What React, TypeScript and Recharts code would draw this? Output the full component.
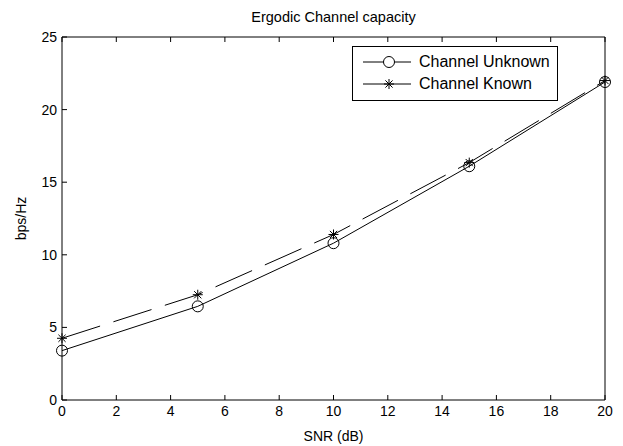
import React from 'react';
import { LineChart, Line, XAxis, YAxis, Legend, Label } from 'recharts';

const snrDb = [0, 5, 10, 15, 20];
const capacityUnknown = [3.4, 6.45, 10.8, 16.1, 21.9];
const capacityKnown = [4.25, 7.25, 11.4, 16.35, 22.0];
const xTicks = [0, 2, 4, 6, 8, 10, 12, 14, 16, 18, 20];
const yTicks = [0, 5, 10, 15, 20, 25];
const seriesNames = ['Channel Unknown', 'Channel Known'];
const chartTitle = 'Ergodic Channel capacity';
const xLabel = 'SNR (dB)';
const yLabel = 'bps/Hz';

const data = snrDb.map((s, i) => ({ snr: s, unknown: capacityUnknown[i], known: capacityKnown[i] }));

const FONT = '"Liberation Sans", Arial, Helvetica, sans-serif';
const TICK = 5;

const BottomTick = (p: any) => (
  <g>
    <line x1={p.x} x2={p.x} y1={p.y} y2={p.y - TICK} stroke="#000" strokeWidth={1} />
    <text x={p.x} y={p.y + 16} textAnchor="middle" fontSize={14} fontFamily={FONT} fill="#000">
      {p.payload.value}
    </text>
  </g>
);
const TopTick = (p: any) => (
  <line x1={p.x} x2={p.x} y1={p.y} y2={p.y + TICK} stroke="#000" strokeWidth={1} />
);
const LeftTick = (p: any) => (
  <g>
    <line x1={p.x} x2={p.x + TICK} y1={p.y} y2={p.y} stroke="#000" strokeWidth={1} />
    <text x={p.x - 5} y={p.y + 5} textAnchor="end" fontSize={14} fontFamily={FONT} fill="#000">
      {p.payload.value}
    </text>
  </g>
);
const RightTick = (p: any) => (
  <line x1={p.x} x2={p.x - TICK} y1={p.y} y2={p.y} stroke="#000" strokeWidth={1} />
);

const circleDot = (p: any) => (
  <circle key={`c-${p.index}`} cx={p.cx} cy={p.cy} r={5.5} fill="none" stroke="#000" strokeWidth={1} />
);

const starShape = (cx: number, cy: number, key?: string) => {
  const r = 5;
  const d = r * 0.72;
  return (
    <g key={key}>
      <line x1={cx - r} x2={cx + r} y1={cy} y2={cy} stroke="#000" strokeWidth={1} />
      <line x1={cx} x2={cx} y1={cy - r} y2={cy + r} stroke="#000" strokeWidth={1} />
      <line x1={cx - d} x2={cx + d} y1={cy - d} y2={cy + d} stroke="#000" strokeWidth={1} />
      <line x1={cx - d} x2={cx + d} y1={cy + d} y2={cy - d} stroke="#000" strokeWidth={1} />
    </g>
  );
};
const starDot = (p: any) => starShape(p.cx, p.cy, `s-${p.index}`);

const LegendBox = () => (
  <div
    style={{
      border: '1px solid #000',
      background: '#fff',
      width: 204,
      height: 49,
      boxSizing: 'content-box',
      fontFamily: FONT,
      fontSize: 16,
      color: '#000',
      paddingTop: 4,
    }}
  >
    {seriesNames.map((name, i) => (
      <div key={name} style={{ display: 'flex', alignItems: 'center', height: 22 }}>
        <svg width={66} height={14}>
          <line x1={10} x2={58} y1={7} y2={7} stroke="#000" strokeWidth={1} />
          {i === 0 ? (
            <circle cx={36} cy={7} r={5.5} fill="#fff" stroke="#000" strokeWidth={1} />
          ) : (
            starShape(36, 7)
          )}
        </svg>
        <span style={{ whiteSpace: 'nowrap' }}>{name}</span>
      </div>
    ))}
  </div>
);

export default function App() {
  return (
    <div style={{ position: 'absolute', left: 0, top: 0, width: 623, height: 446, background: '#fff' }}>
      <LineChart width={623} height={446} data={data} margin={{ top: 0, right: 0, bottom: 0, left: 0 }}>
        <XAxis
          dataKey="snr"
          type="number"
          domain={[0, 20]}
          ticks={xTicks}
          interval={0}
          height={46}
          tickSize={0}
          tickMargin={0}
          tickLine={false}
          axisLine={{ stroke: '#000' }}
          tick={BottomTick}
        >
          <Label value={xLabel} position="insideBottom" offset={5} fontSize={14} fontFamily={FONT} fill="#000" />
        </XAxis>
        <XAxis
          xAxisId="top"
          orientation="top"
          dataKey="snr"
          type="number"
          domain={[0, 20]}
          ticks={xTicks}
          interval={0}
          height={37}
          tickSize={0}
          tickMargin={0}
          tickLine={false}
          axisLine={{ stroke: '#000' }}
          tick={TopTick}
        >
          <Label value={chartTitle} position="insideTop" offset={12} fontSize={14.5} fontFamily={FONT} fill="#000" />
        </XAxis>
        <YAxis
          type="number"
          domain={[0, 25]}
          ticks={yTicks}
          interval={0}
          width={62}
          tickSize={0}
          tickMargin={0}
          tickLine={false}
          axisLine={{ stroke: '#000' }}
          tick={LeftTick}
        >
          <Label
            value={yLabel}
            angle={-90}
            position="insideLeft"
            offset={21}
            fontSize={14}
            fontFamily={FONT}
            fill="#000"
            style={{ textAnchor: 'middle' }}
          />
        </YAxis>
        <YAxis
          yAxisId="right"
          orientation="right"
          type="number"
          domain={[0, 25]}
          ticks={yTicks}
          interval={0}
          width={18}
          tickSize={0}
          tickMargin={0}
          tickLine={false}
          axisLine={{ stroke: '#000' }}
          tick={RightTick}
        />
        <Legend
          layout="vertical"
          align="center"
          verticalAlign="middle"
          content={LegendBox}
          wrapperStyle={{ left: 352, top: 46, width: 'auto', height: 'auto' }}
        />
        <Line
          name={seriesNames[0]}
          dataKey="unknown"
          stroke="#000"
          strokeWidth={1}
          dot={circleDot}
          activeDot={false}
          isAnimationActive={false}
        />
        <Line
          name={seriesNames[1]}
          dataKey="known"
          stroke="#000"
          strokeWidth={1}
          strokeDasharray="40 14"
          dot={starDot}
          activeDot={false}
          isAnimationActive={false}
        />
      </LineChart>
    </div>
  );
}
